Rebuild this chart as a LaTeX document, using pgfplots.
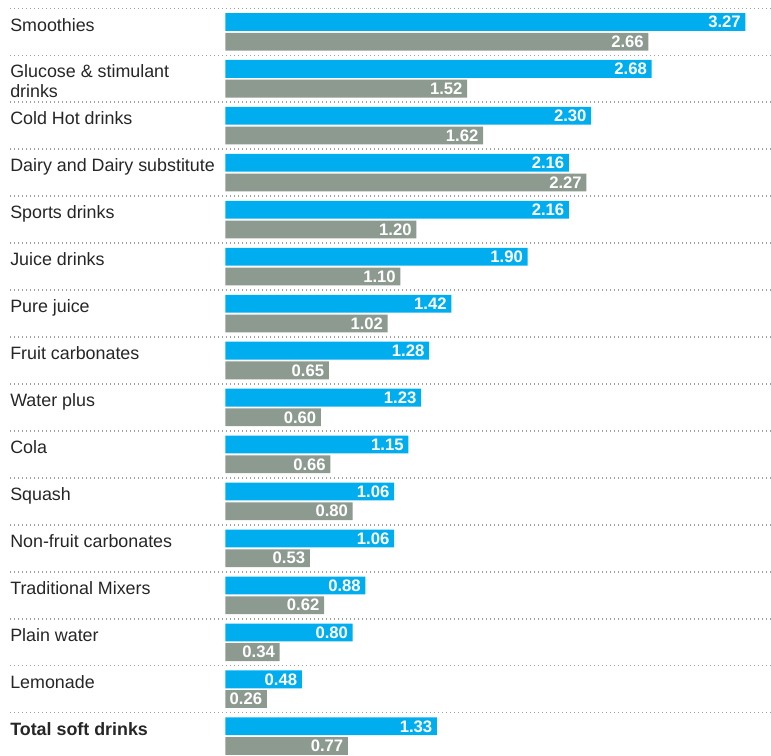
\documentclass[border=0pt]{standalone}
\usepackage{pgfplots}
\pgfplotsset{compat=1.18}
\usepackage{fontspec}
\setmainfont{Liberation Sans}
\definecolor{cblue}{HTML}{00AEEF}
\definecolor{cgrey}{HTML}{8C9A90}
\definecolor{dotc}{HTML}{A0A0A0}
\begin{document}
\begin{tikzpicture}
\begin{axis}[
  scale only axis, width=570.75pt, height=566.25pt,
  xmin=-1.3553, xmax=3.4308,
  ymin=-0.6768, ymax=15.401, y dir=reverse,
  xbar, bar width=0.379,
  axis line style={draw=none}, tick style={draw=none},
  major tick length=0pt,
  xtick=\empty, ytick={0,...,15},
  yticklabels={Smoothies,{Glucose \& stimulant\\drinks},Cold Hot drinks,Dairy and Dairy substitute,Sports drinks,Juice drinks,Pure juice,Fruit carbonates,Water plus,Cola,Squash,Non-fruit carbonates,Traditional Mixers,Plain water,Lemonade,{\textbf{Total soft drinks}}},
  yticklabel style={anchor=north west, inner sep=0pt, yshift=10.5pt, font=\fontsize{13.4}{15}\selectfont, align=left, text=black!85},
  extra y ticks={-0.5,0.5,...,14.5}, extra y tick labels={},
  extra y tick style={grid=major, major grid style={dotc, line width=1.1pt, dash pattern=on 1.1pt off 1.9pt}},
  /pgf/number format/assume math mode=true,
  nodes near coords={\pgfmathprintnumber[fixed,fixed zerofill,precision=2]{\pgfplotspointmeta}},
  nodes near coords style={anchor=east, text=white, font=\bfseries\fontsize{12.5}{12.5}\selectfont},
  clip=false,
]
\addplot[fill=cblue, draw=none, bar shift=-0.21] coordinates {
(3.27,0) (2.68,1) (2.30,2) (2.16,3) (2.16,4) (1.90,5) (1.42,6) (1.28,7)
(1.23,8) (1.15,9) (1.06,10) (1.06,11) (0.88,12) (0.80,13) (0.48,14) (1.33,15)};
\addplot[fill=cgrey, draw=none, bar shift=0.21] coordinates {
(2.66,0) (1.52,1) (1.62,2) (2.27,3) (1.20,4) (1.10,5) (1.02,6) (0.65,7)
(0.60,8) (0.66,9) (0.80,10) (0.53,11) (0.62,12) (0.34,13) (0.26,14) (0.77,15)};
\end{axis}
\pgfresetboundingbox
\path[use as bounding box] (current axis.south west) ++(-7.5pt,0pt) rectangle (current axis.north east);
\end{tikzpicture}
\end{document}
